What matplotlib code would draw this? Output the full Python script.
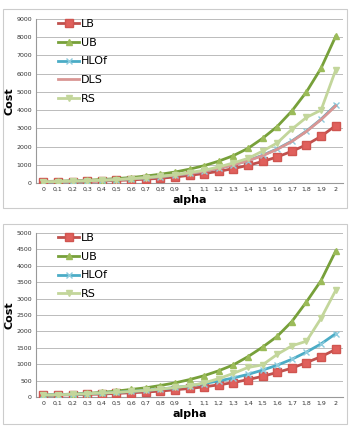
import numpy as np
import matplotlib
matplotlib.use("Agg")
import matplotlib.pyplot as plt
from matplotlib.patches import Rectangle

# categories
alpha = ["0", "0,1", "0,2", "0,3", "0,4", "0,5", "0,6", "0,7", "0,8", "0,9", "1",
         "1,1", "1,2", "1,3", "1,4", "1,5", "1,6", "1,7", "1,8", "1,9", "2"]

# top chart
top_lb = [50, 60, 70, 90, 110, 140, 170, 210, 260, 330, 420,
          520, 640, 790, 970, 1180, 1430, 1740, 2100, 2560, 3150]
top_ub = [80, 100, 120, 150, 190, 240, 300, 380, 480, 600, 760,
          950, 1200, 1500, 1900, 2450, 3100, 3950, 5000, 6300, 8050]
top_hlof = [70, 80, 100, 120, 150, 180, 230, 280, 350, 430, 530,
            650, 810, 1000, 1230, 1520, 1870, 2300, 2850, 3500, 4270]
top_dls = [70, 80, 100, 120, 150, 180, 230, 280, 350, 430, 530,
           650, 810, 1000, 1220, 1500, 1850, 2280, 2830, 3480, 4230]
top_rs = [70, 80, 100, 120, 150, 190, 240, 300, 370, 450, 570,
          700, 880, 1100, 1350, 1750, 2200, 2950, 3600, 4000, 6200]

# bottom chart
bot_lb = [50, 60, 70, 80, 90, 110, 130, 150, 180, 220, 260,
          310, 370, 440, 530, 630, 750, 880, 1050, 1230, 1450]
bot_ub = [60, 70, 90, 110, 140, 180, 230, 280, 350, 430, 530,
          650, 800, 980, 1230, 1520, 1850, 2300, 2900, 3550, 4450]
bot_hlof = [60, 70, 80, 100, 120, 140, 170, 200, 240, 290, 340,
            410, 490, 580, 690, 820, 970, 1150, 1370, 1620, 1930]
bot_rs = [60, 70, 80, 100, 120, 140, 170, 200, 240, 290, 340,
          430, 560, 720, 900, 980, 1300, 1560, 1700, 2400, 3250]

styles = {
    "LB": dict(color="#C0504D", marker="s", ms=5.5, mfc="#E0605C", mec="#D05550", lw=2),
    "UB": dict(color="#77A03A", marker="^", ms=5, mfc="#9BBB59", mec="#9BBB59", lw=2),
    "HLOf": dict(color="#4BACC6", marker="x", ms=4, mec="#8DCBDD", lw=2),
    "DLS": dict(color="#D99694", marker=None, lw=2),
    "RS": dict(color="#C3D69B", marker="v", ms=4, mfc="#C3D69B", mec="#C3D69B", lw=2),
}

W, H = 351, 429
fig = plt.figure(figsize=(W / 100, H / 100), dpi=100)


def px_axes(x0, y0, x1, y1):
    return fig.add_axes([x0 / W, 1 - y1 / H, (x1 - x0) / W, (y1 - y0) / H])


def draw(ax, series, ymax, ystep):
    x = np.arange(len(alpha))
    for name, vals in series:
        ax.plot(x, vals, label=name, zorder=3, **styles[name])
    ax.set_xlim(-0.5, len(alpha) - 0.5)
    ax.set_ylim(0, ymax)
    ax.set_yticks(np.arange(0, ymax + 1, ystep))
    ax.set_xticks(x)
    ax.set_xticklabels(alpha)
    ax.tick_params(labelsize=4.5, length=0, pad=3, colors="#333333")
    ax.grid(axis="y", color="#BBBBBB", lw=0.7)
    ax.set_axisbelow(True)
    for s in ["top", "right"]:
        ax.spines[s].set_visible(False)
    ax.spines["left"].set_color("#999999")
    ax.spines["bottom"].set_color("#999999")
    ax.set_ylabel("Cost", fontsize=8, fontweight="bold", labelpad=1)
    ax.set_xlabel("alpha", fontsize=8, fontweight="bold", labelpad=2)
    ax.legend(loc="upper left", bbox_to_anchor=(0.04, 1.06), frameon=False,
              fontsize=8, handlelength=1.9, handletextpad=0.1, labelspacing=0.78)


# outer frames
for y0, y1 in [(9, 208), (224, 424)]:
    fig.patches.append(Rectangle((3 / W, 1 - y1 / H), 344 / W, (y1 - y0) / H,
                                 transform=fig.transFigure, fill=False,
                                 ec="#CCCCCC", lw=0.8))

ax1 = px_axes(36, 19, 343, 183)
draw(ax1, [("LB", top_lb), ("UB", top_ub), ("HLOf", top_hlof),
           ("DLS", top_dls), ("RS", top_rs)], 9000, 1000)

ax2 = px_axes(36, 233, 343, 397)
draw(ax2, [("LB", bot_lb), ("UB", bot_ub), ("HLOf", bot_hlof),
           ("RS", bot_rs)], 5000, 500)

fig.savefig("out.png", dpi=100)
